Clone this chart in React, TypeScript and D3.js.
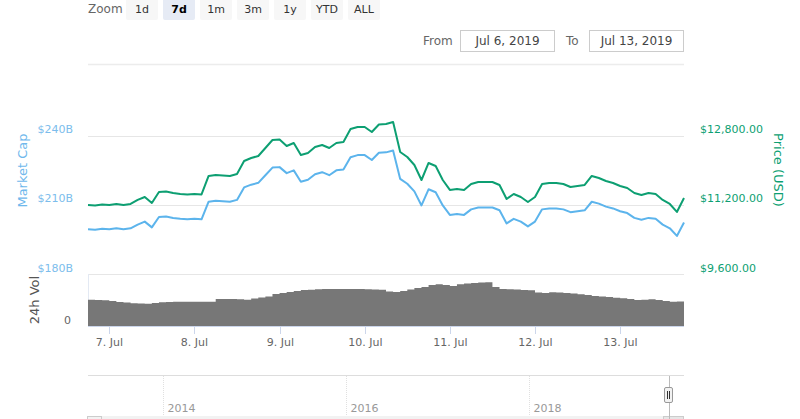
import React from "react";
import * as d3 from "d3";

// 2-hourly samples, Jul 6 18:00 -> Jul 13 18:00 (UTC)
const START = Date.UTC(2019, 6, 6, 18);
const STEP = 2 * 3600 * 1000;

const priceUsd = [
  11195, 11184, 11207, 11195, 11218, 11195, 11218, 11311, 11380, 11241,
  11495, 11507, 11472, 11449, 11438, 11449, 11438, 11865, 11888, 11876,
  11865, 11911, 12211, 12280, 12327, 12511, 12696, 12708, 12558, 12627,
  12350, 12396, 12534, 12581, 12511, 12627, 12650, 12950, 12996, 12996,
  12881, 13054, 13066, 13112, 12419, 12304, 12119, 11772, 12165, 12096,
  11772, 11542, 11565, 11542, 11680, 11726, 11726, 11726, 11657, 11334,
  11449, 11380, 11264, 11380, 11680, 11703, 11703, 11680, 11611, 11634,
  11657, 11865, 11819, 11749, 11703, 11634, 11588, 11472, 11426, 11472,
  11449, 11311, 11218, 11034, 11357,
];

const marketCapB = [
  199.4, 199.2, 199.6, 199.4, 199.8, 199.4, 199.8, 201.4, 202.7, 200.2,
  204.7, 204.9, 204.3, 203.9, 203.7, 203.9, 203.7, 211.3, 211.7, 211.5,
  211.3, 212.1, 217.5, 218.7, 219.5, 222.8, 226.1, 226.3, 223.7, 224.9,
  220.0, 220.8, 223.2, 224.1, 222.8, 224.9, 225.3, 230.6, 231.5, 231.5,
  229.4, 232.5, 232.7, 233.5, 221.2, 219.1, 215.8, 209.7, 216.7, 215.4,
  209.7, 205.6, 206.0, 205.6, 208.0, 208.8, 208.8, 208.8, 207.6, 201.9,
  203.9, 202.7, 200.6, 202.7, 208.0, 208.4, 208.4, 208.0, 206.8, 207.2,
  207.6, 211.3, 210.5, 209.2, 208.4, 207.2, 206.4, 204.3, 203.5, 204.3,
  203.9, 201.4, 199.8, 196.5, 202.3,
];

const volume24hB = [
  20.2, 20.0, 19.8, 19.2, 18.5, 18.1, 17.5, 17.3, 17.2, 17.7,
  18.2, 18.5, 18.7, 18.7, 18.7, 18.7, 18.7, 18.7, 20.8, 20.8,
  20.8, 20.5, 20.2, 21.2, 21.9, 22.7, 24.6, 25.4, 26.2, 26.9,
  27.7, 27.9, 28.2, 28.5, 28.5, 28.5, 28.5, 28.5, 28.5, 28.3,
  28.1, 27.9, 26.5, 26.2, 26.9, 28.1, 29.2, 30.0, 31.5, 32.1,
  31.5, 30.8, 32.1, 32.7, 33.1, 33.5, 33.6, 30.0, 28.5, 28.2,
  28.1, 27.7, 27.5, 25.8, 25.4, 25.9, 25.8, 25.4, 25.0, 24.4,
  23.8, 23.1, 22.7, 22.3, 21.8, 21.3, 20.8, 20.0, 20.2, 20.5,
  20.0, 19.2, 18.7, 18.8, 20.0,
];

const zoomButtons = ["1d", "7d", "1m", "3m", "1y", "YTD", "ALL"];
const selectedZoom = "7d";
const fromDate = "Jul 6, 2019";
const toDate = "Jul 13, 2019";
const marketCapTicks = [180, 210, 240];
const priceTicks = [9600, 11200, 12800];
const dayTicks = [7, 8, 9, 10, 11, 12, 13].map((d) => new Date(Date.UTC(2019, 6, d)));
const navYears = [2014, 2016, 2018];

const FONT = "'DejaVu Sans', sans-serif";
const GREEN = "#0d9f72";
const BLUE = "#5cb4ec";

export default function App() {
  const W = 800;
  const H = 419;
  const left = 88;
  const right = 684;
  const paneTop = 64.5;

  const dates = priceUsd.map((_, i) => new Date(START + i * STEP));

  const x = d3.scaleUtc().domain([new Date(START), new Date(START + 7 * 24 * 3600 * 1000)]).range([left, right]);
  const yCap = d3.scaleLinear().domain([180, 240]).range([274, 135.5]);
  const yPrice = d3.scaleLinear().domain([9600, 12800]).range([274, 135.5]);
  const yVol = d3.scaleLinear().domain([0, 40]).range([326, 274]);
  const nav = d3.scaleUtc().domain([new Date(Date.UTC(2013, 2, 8)), new Date(Date.UTC(2019, 8, 12))]).range([left, right]);

  const capLine = d3.line<number>().x((_, i) => x(dates[i])).y((d) => yCap(d));
  const priceLine = d3.line<number>().x((_, i) => x(dates[i])).y((d) => yPrice(d));
  const volArea = d3.area<number>()
    .x((_, i) => x(dates[i]))
    .y0(yVol(0))
    .y1((d) => yVol(d))
    .curve(d3.curveStepAfter);

  const fmtPrice = d3.format("$,.2f");
  const fmtDay = d3.utcFormat("%-d. %b");
  const handleX = Math.round(nav(new Date(START + 7 * 24 * 3600 * 1000 - 30 * 60 * 1000))) + 0.5;

  return (
    <svg width={W} height={H} style={{ position: "absolute", left: 0, top: 0, display: "block" }} fontFamily={FONT}>
      <rect width={W} height={H} fill="#fff" />

      {/* range selector */}
      <text x={88} y={13} fontSize={12} fill="#666">Zoom</text>
      {zoomButtons.map((b, i) => (
        <g key={b} transform={`translate(${126 + i * 37},0)`}>
          <rect x={0} y={-4} width={32} height={24} rx={2} fill={b === selectedZoom ? "#e6ebf5" : "#f7f7f7"} />
          <text x={16} y={12.5} fontSize={11} textAnchor="middle" fill={b === selectedZoom ? "#000" : "#333"}
            fontWeight={b === selectedZoom ? "bold" : "normal"}>{b}</text>
        </g>
      ))}

      {/* date inputs */}
      <text x={423} y={45} fontSize={12} fill="#666">From</text>
      <rect x={460.5} y={30.5} width={94} height={21} fill="#fff" stroke="#ccc" />
      <text x={507.5} y={45} fontSize={12} fill="#444" textAnchor="middle">{fromDate}</text>
      <text x={566} y={45} fontSize={12} fill="#666">To</text>
      <rect x={589.5} y={30.5} width={94} height={21} fill="#fff" stroke="#ccc" />
      <text x={636.5} y={45} fontSize={12} fill="#444" textAnchor="middle">{toDate}</text>

      {/* grid */}
      <line x1={left} x2={right} y1={paneTop} y2={paneTop} stroke="#ececec" strokeWidth={1.5} />
      {marketCapTicks.map((t) => (
        <line key={t} x1={left} x2={right} y1={Math.round(yCap(t)) + 0.5} y2={Math.round(yCap(t)) + 0.5} stroke="#e6e6e6" />
      ))}
      <line x1={left + 0.5} x2={left + 0.5} y1={274} y2={326} stroke="#e3e9f3" />

      {/* left axis */}
      {marketCapTicks.map((t) => (
        <text key={t} x={73} y={yCap(t) - 2.5} fontSize={11} fill="#7cbdec" textAnchor="end">{`$${t}B`}</text>
      ))}
      <text transform="translate(27,170.5) rotate(-90)" fontSize={13} fill="#6fb8ec" textAnchor="middle">Market Cap</text>

      {/* right axis */}
      {priceTicks.map((t) => (
        <text key={t} x={700} y={yPrice(t) - 2.5} fontSize={11} fill={GREEN} textAnchor="start">{fmtPrice(t)}</text>
      ))}
      <text transform="translate(774,170) rotate(90)" fontSize={13} fill={GREEN} textAnchor="middle">Price (USD)</text>

      {/* volume */}
      <path d={volArea(volume24hB) || ""} fill="#777" />
      <text transform="translate(38.5,300) rotate(-90)" fontSize={13} fill="#555" textAnchor="middle">24h Vol</text>
      <text x={71} y={324} fontSize={11} fill="#666" textAnchor="end">0</text>

      {/* series */}
      <path d={capLine(marketCapB) || ""} fill="none" stroke={BLUE} strokeWidth={2} strokeLinejoin="round" />
      <path d={priceLine(priceUsd) || ""} fill="none" stroke={GREEN} strokeWidth={2} strokeLinejoin="round" />

      {/* x axis */}
      <line x1={left} x2={right} y1={326.5} y2={326.5} stroke="#ccd6eb" />
      {dayTicks.map((d) => {
        const tx = Math.round(x(d)) + 0.5;
        return (
          <g key={d.getTime()}>
            <line x1={tx} x2={tx} y1={326} y2={334} stroke="#ccd6eb" />
            <text x={tx} y={345.5} fontSize={11} fill="#666" textAnchor="middle">{fmtDay(d)}</text>
          </g>
        );
      })}

      {/* navigator */}
      <line x1={left} x2={right} y1={375.5} y2={375.5} stroke="#ddd" />
      {navYears.map((yr) => {
        const nx = Math.round(nav(new Date(Date.UTC(yr, 0, 1)))) + 0.5;
        return (
          <g key={yr}>
            <line x1={nx} x2={nx} y1={376} y2={416} stroke="#e0e0e0" strokeDasharray="1,1" />
            <text x={nx + 4} y={411.5} fontSize={11} fill="#999">{yr}</text>
          </g>
        );
      })}
      <rect x={left} y={416} width={right - left} height={4} fill="#f2f2f2" />
      <rect x={87.5} y={416.5} width={14} height={8} fill="#f2f2f2" stroke="#ccc" />
      <rect x={663.5} y={416.5} width={20} height={8} fill="#e6e6e6" stroke="#ccc" />
      <line x1={handleX} x2={handleX} y1={376} y2={419} stroke="#bbb" />
      <rect x={664.5} y={387.5} width={8} height={15} rx={1.5} fill="#f2f2f2" stroke="#999" />
      <line x1={667.5} x2={667.5} y1={391} y2={399} stroke="#333" />
      <line x1={669.5} x2={669.5} y1={391} y2={399} stroke="#333" />
    </svg>
  );
}
